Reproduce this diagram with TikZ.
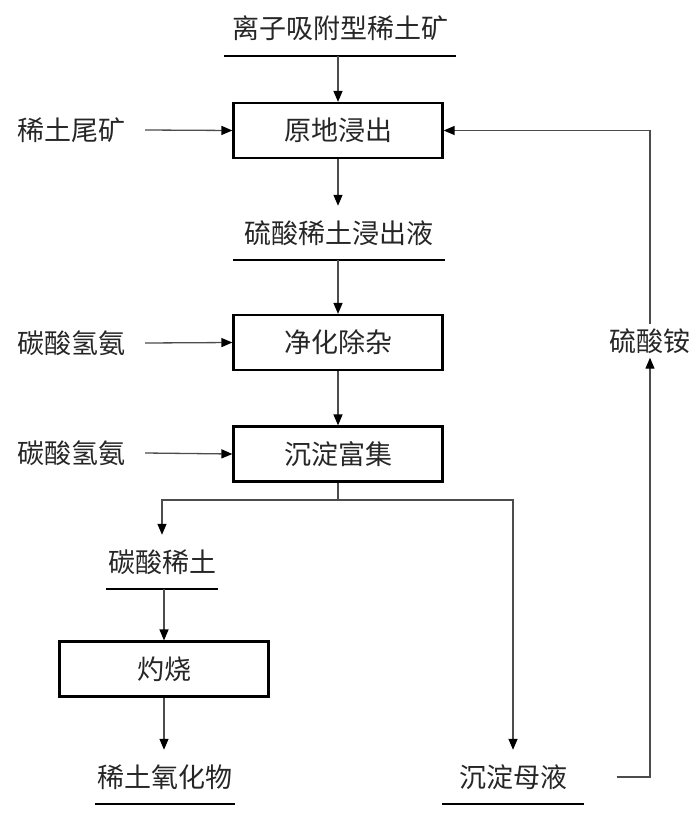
\documentclass[tikz,border=0pt]{standalone}
\usepackage{fontspec}
\newfontfamily\cjk{Noto Sans CJK SC}
\usetikzlibrary{arrows.meta,calc}

\tikzset{
    >={Triangle[length=11pt,width=9pt,color=black]},
    txt/.style={font=\cjk\fontsize{27}{30}\selectfont, text=black!85},
    proc/.style={txt, draw=black, line width=2.2pt, minimum width=209pt, minimum height=55pt, inner sep=0pt},
    feed/.style={txt, inner xsep=20pt, inner ysep=0pt},
    uline/.style={draw=black, line width=2.2pt},
    prod/.style={txt, inner sep=0pt, text height=37pt, text depth=17pt,
        append after command={(\tikzlastnode.south west) edge[uline] (\tikzlastnode.south east)}},
    conn/.style={draw=black!70, line width=1.3pt},
}

\begin{document}
\begin{tikzpicture}[x=1pt, y=-1pt]
    \useasboundingbox (0,0) rectangle (700,816);

    % Main column
    \node[prod, minimum width=232pt] (ore) at (340,29) {离子吸附型稀土矿};
    \node[proc] (leach) at (338,130.5) {原地浸出};
    \node[prod, minimum width=212pt] (liquor) at (339,233) {硫酸稀土浸出液};
    \node[proc] (purify) at (338,342.5) {净化除杂};
    \node[proc] (enrich) at (338,454) {沉淀富集};

    % Feeds from the left
    \node[feed] (tail) at (71,130) {稀土尾矿};
    \node[feed] (bicarb1) at (71,343) {碳酸氢氨};
    \node[feed] (bicarb2) at (71,453) {碳酸氢氨};

    % Products
    \node[prod, minimum width=112pt] (carb) at (162,562) {碳酸稀土};
    \node[proc] (calcine) at (164,669) {灼烧};
    \node[prod, minimum width=140pt] (oxide) at (165,777) {稀土氧化物};
    \node[prod, minimum width=141pt] (mother) at (513,777) {沉淀母液};
    \node[txt, inner xsep=0pt, inner ysep=4pt] (salt) at (650,341) {硫酸铵};
    \coordinate (split) at (338,500);

    % Connectors
    \draw[conn, ->] (ore.south -| leach.north) -- (leach.north);
    \draw[conn, ->] (leach.south) -- (liquor.north -| leach.south);
    \draw[conn, ->] (liquor.south -| purify.north) -- (purify.north);
    \draw[conn, ->] (purify.south) -- (enrich.north);
    \draw[conn, ->] (tail.east) -- (leach.west);
    \draw[conn, ->] (bicarb1.east) -- (purify.west);
    \draw[conn, ->] (bicarb2.east) -- (enrich.west);
    \draw[conn] (enrich.south) -- (split);
    \draw[conn, ->] (split) -| (carb.north);
    \draw[conn, ->] (split) -| (mother.north);
    \draw[conn, ->] (carb.south -| calcine.north) -- (calcine.north);
    \draw[conn, ->] (calcine.south) -- (oxide.north -| calcine.south);

    % Recycle of the mother liquor
    \draw[conn, ->] ([xshift=33pt]mother.east) -| (salt.south);
    \draw[conn, ->] (salt.north) |- (leach.east);
\end{tikzpicture}
\end{document}
